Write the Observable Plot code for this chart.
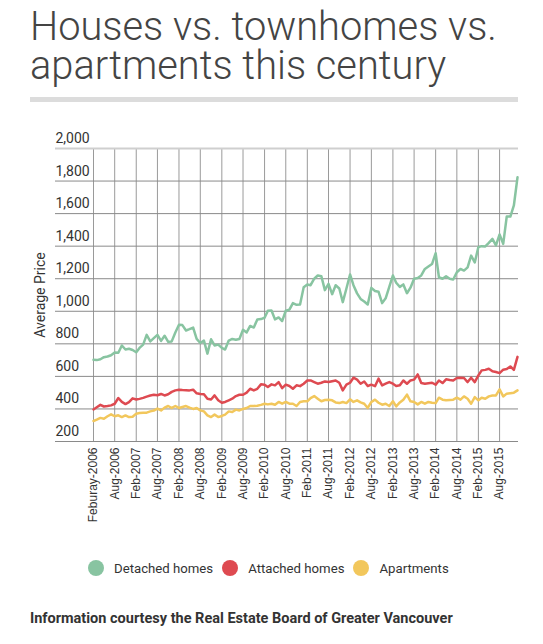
<!DOCTYPE html>
<html>
<head>
<meta charset="utf-8">
<script src="https://cdn.jsdelivr.net/npm/d3@7"></script>
<script src="https://cdn.jsdelivr.net/npm/@observablehq/plot@0.6"></script>
<style>
  html, body { margin: 0; padding: 0; background: #fff; }
  body { width: 543px; height: 644px; position: relative; overflow: hidden; font-family: Roboto, "Noto Sans", sans-serif; }
  .title { position: absolute; left: 30px; font-family: Roboto, sans-serif; font-weight: 300; font-size: 39.8px; line-height: 38px; color: #444; margin: 0; white-space: nowrap; }
  #t1 { top: 8px; }
  #t2 { top: 47px; }
  #rule { position: absolute; left: 30px; top: 97px; width: 488px; height: 5px; background: #dcdcdc; }
  #chart { position: absolute; left: 0; top: 110px; }
  #legend { position: absolute; left: 88px; top: 560px; display: flex; align-items: center; font-size: 13.2px; color: #333; white-space: nowrap; }
  .dot { display: inline-block; width: 16px; height: 16px; border-radius: 50%; margin-right: 10px; }
  .lab { margin-right: 9px; }
  #caption { position: absolute; left: 30px; top: 610px; font-size: 14.5px; font-weight: 700; color: #333; white-space: nowrap; }
</style>
</head>
<body>
<div class="title" id="t1">Houses vs. townhomes vs.</div>
<div class="title" id="t2">apartments this century</div>
<div id="rule"></div>
<div id="chart"></div>
<div id="legend"></div>
<div id="caption">Information courtesy the Real Estate Board of Greater Vancouver</div>
<script>
const startMonth = "2006-02";
const seriesNames = ["Detached homes", "Attached homes", "Apartments"];
const seriesColors = ["#88c4a1", "#de4a51", "#f2c75c"];

const detached = [702,700,705,718,722,730,747,745,790,765,770,762,748,775,795,855,815,835,855,818,
  850,812,815,870,917,915,882,890,900,830,805,820,740,828,790,795,775,765,820,830,
  825,830,886,870,910,900,950,952,960,1003,1005,950,962,940,1003,1010,1050,1040,1042,1148,
  1165,1160,1200,1220,1215,1130,1168,1105,1160,1140,1056,1140,1226,1160,1110,1076,1060,1042,1144,1125,
  1120,1050,1080,1150,1220,1175,1150,1165,1111,1145,1200,1205,1220,1260,1275,1290,1357,1209,1200,1215,
  1200,1195,1240,1260,1250,1270,1342,1300,1394,1400,1398,1420,1445,1405,1472,1414,1582,1582,1650,1823];

const attached = [397,410,425,415,418,422,432,467,443,430,442,465,458,462,468,476,483,487,484,492,
  483,490,505,514,518,516,515,514,518,496,492,490,462,458,483,453,438,443,453,463,
  479,487,487,500,524,514,524,551,549,535,551,545,565,528,549,541,524,545,540,555,
  575,575,565,555,561,569,565,570,575,561,514,549,561,592,580,555,569,541,549,540,
  586,545,555,565,555,541,545,575,555,575,580,612,559,555,558,561,549,575,559,582,
  578,575,590,592,590,565,592,565,606,637,640,647,631,627,620,641,645,661,640,720];

const apartments = [326,334,345,340,355,367,355,361,350,360,350,352,371,375,377,377,385,390,402,391,
  408,418,406,418,406,412,418,408,400,406,391,385,361,350,365,350,357,365,385,381,
  396,391,400,406,418,418,420,425,432,428,432,426,443,432,443,432,432,418,443,447,
  447,467,479,463,447,455,457,453,440,436,443,436,459,443,453,440,432,406,443,457,
  438,426,432,418,447,416,440,457,488,447,443,428,443,432,443,438,436,469,457,453,
  455,457,469,457,477,463,432,473,453,469,463,477,483,483,520,477,494,497,500,514];

const yTicks = [200,400,600,800,1000,1200,1400,1600,1800,2000];
const xTickMonths = ["2006-02","2006-08","2007-02","2007-08","2008-02","2008-08","2009-02","2009-08",
  "2010-02","2010-08","2011-02","2011-08","2012-02","2012-08","2013-02","2013-08","2014-02","2014-08",
  "2015-02","2015-08"];
const xTickLabels = ["Feburay-2006","Aug-2006","Feb-2007","Aug-2007","Feb-2008","Aug-2008","Feb-2009","Aug-2009",
  "Feb-2010","Aug-2010","Feb-2011","Aug-2011","Feb-2012","Aug-2012","Feb-2013","Aug-2013","Feb-2014","Aug-2014",
  "Feb-2015","Aug-2015"];

const parse = d3.utcParse("%Y-%m");
const start = parse(startMonth);
const rows = [];
[detached, attached, apartments].forEach((arr, si) => {
  arr.forEach((v, i) => rows.push({series: seriesNames[si], date: d3.utcMonth.offset(start, i), value: v}));
});
const tickDates = xTickMonths.map(parse);
const labelOf = new Map(tickDates.map((d, i) => [+d, xTickLabels[i]]));
const lastDate = d3.utcMonth.offset(start, detached.length - 1);

const chart = Plot.plot({
  width: 543,
  height: 430,
  marginLeft: 55,
  marginRight: 25,
  marginTop: 38,
  marginBottom: 99,
  style: {fontFamily: "Roboto, sans-serif", color: "#333", background: "#fff"},
  x: {type: "utc", domain: [start, lastDate], range: [93, 517]},
  y: {domain: [200, 2000]},
  color: {domain: seriesNames, range: seriesColors},
  marks: [
    Plot.ruleX(tickDates, {stroke: "#9a9a9a", strokeWidth: 1}),
    Plot.ruleY(yTicks.filter(d => d < 2000), {stroke: "#8a8a8a", strokeWidth: 1}),
    Plot.ruleY([2000], {stroke: "#cfcfcf", strokeWidth: 2}),
    Plot.text(yTicks, {y: d => d, frameAnchor: "left", textAnchor: "start", dy: -10, text: d => d3.format(",")(d), fontSize: 14, fill: "#333"}),
    Plot.text(["Average Price"], {frameAnchor: "left", textAnchor: "middle", rotate: -90, dx: -15, text: d => d, fontSize: 14, fill: "#333"}),
    Plot.axisX({ticks: tickDates, tickFormat: d => labelOf.get(+d), tickRotate: -90, tickSize: 0, tickPadding: 6, fontSize: 12, fontFamily: "Liberation Sans, Arial, sans-serif", label: null, fill: "#333"}),
    Plot.axisY({ticks: [], label: null, tickSize: 0}),
    Plot.line(rows, {x: "date", y: "value", z: "series", stroke: "series", strokeWidth: 2.5, strokeLinejoin: "round"})
  ]
});
document.getElementById("chart").appendChild(chart);

const legend = document.getElementById("legend");
seriesNames.forEach((n, i) => {
  const dot = document.createElement("span");
  dot.className = "dot";
  dot.style.background = seriesColors[i];
  const lab = document.createElement("span");
  lab.className = "lab";
  lab.textContent = n;
  legend.appendChild(dot);
  legend.appendChild(lab);
});
</script>
</body>
</html>
